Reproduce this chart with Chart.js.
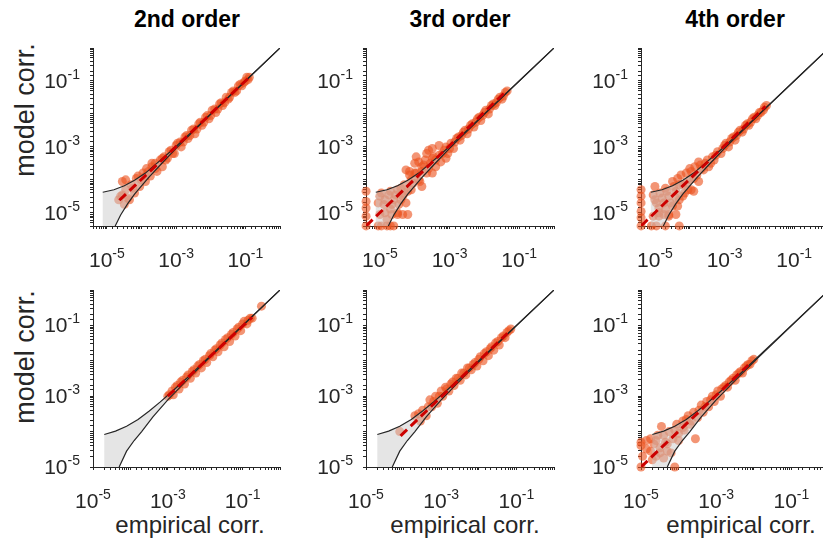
<!DOCTYPE html>
<html>
<head>
<meta charset="utf-8">
<script src="https://cdn.jsdelivr.net/npm/chart.js@4.4.1/dist/chart.umd.min.js"></script>
<style>
  html, body { margin: 0; padding: 0; background: #fff; overflow: hidden; }
  body { width: 823px; height: 545px; position: relative; font-family: "Liberation Sans", Arial, sans-serif; color: #000; }
  canvas { position: absolute; }
  .title { position: absolute; top: 8px; width: 200px; margin-left: -100px; text-align: center;
           font-size: 23px; font-weight: bold; line-height: 1; }
  .ylab { position: absolute; left: 25px; font-size: 27px; line-height: 1; white-space: nowrap; color: #262626;
          transform: translate(-50%, -50%) rotate(-90deg); }
  .xlab { position: absolute; top: 513px; width: 220px; margin-left: -110px; text-align: center;
          font-size: 24px; line-height: 1; color: #262626; }
</style>
</head>
<body>
<div class="title" style="left:187px">2nd order</div>
<div class="title" style="left:460px">3rd order</div>
<div class="title" style="left:735px">4th order</div>
<div class="ylab" style="top:110px">model corr.</div>
<div class="ylab" style="top:357px">model corr.</div>
<div class="xlab" style="left:190px">empirical corr.</div>
<div class="xlab" style="left:465px">empirical corr.</div>
<div class="xlab" style="left:741px">empirical corr.</div>
<script>
// axis ranges and tick labels
const topMin = 3.98e-6;
const bottomMin = 1e-5;
const axisMax = 1;
const tickValues = [1e-5, 1e-3, 1e-1];
const tickExps = ['-5', '-3', '-1'];

// confidence band, top row (upper and lower bound)
const topUpperX = [7.6e-6, 1.6e-5, 3.2e-5, 6.3e-5, 1.3e-4, 2.5e-4, 5.0e-4, 1.0e-3, 3.2e-3, 1.0e-2, 1.0e-1, 1];
const topUpperY = [4.2e-5, 5.0e-5, 6.6e-5, 9.7e-5, 1.6e-4, 2.9e-4, 5.4e-4, 1.03e-3, 3.2e-3, 1.0e-2, 1.0e-1, 1];
const topLowerX = [1.74e-5, 2.5e-5, 4.0e-5, 6.3e-5, 1.6e-4, 4.0e-4, 1.0e-3, 3.2e-3, 1.0e-2, 1.0e-1, 1];
const topLowerY = [3.98e-6, 8.6e-6, 1.9e-5, 3.7e-5, 1.17e-4, 3.3e-4, 9.0e-4, 3.0e-3, 9.7e-3, 1.0e-1, 1];

// confidence band, bottom row
const botUpperX = [2.0e-5, 4.0e-5, 7.9e-5, 1.6e-4, 3.2e-4, 6.3e-4, 1.26e-3, 3.2e-3, 1.0e-2, 1.0e-1, 1];
const botUpperY = [8.3e-5, 1.03e-4, 1.42e-4, 2.2e-4, 3.8e-4, 6.9e-4, 1.32e-3, 3.2e-3, 1.0e-2, 1.0e-1, 1];
const botLowerX = [5.0e-5, 7.9e-5, 1.26e-4, 2.0e-4, 4.0e-4, 1.0e-3, 3.2e-3, 1.0e-2, 1.0e-1, 1];
const botLowerY = [1.0e-5, 2.8e-5, 5.6e-5, 1.0e-4, 2.6e-4, 7.9e-4, 2.8e-3, 9.3e-3, 9.8e-2, 1];

// 2nd order, top row
const emp2Top = [2.2e-5, 2.5e-5, 2.8e-5, 3.2e-5, 3.5e-5, 3.5e-5, 4.5e-5, 5.0e-5, 6.3e-5, 7.1e-5, 8.9e-5, 1.1e-4, 1.3e-4, 1.4e-4, 1.8e-4, 2.0e-4, 2.5e-4, 2.8e-4, 3.5e-4, 4.0e-4, 4.5e-4, 5.6e-4, 7.1e-4, 8.9e-4, 1.1e-3, 1.4e-3, 1.8e-3, 2.2e-3, 2.8e-3, 3.5e-3, 4.5e-3, 5.6e-3, 7.1e-3, 8.9e-3, 0.011, 0.014, 0.018, 0.022, 0.028, 0.035, 0.045, 0.056, 0.071, 0.089, 0.11, 0.13,
  5.0e-4, 6.3e-4, 7.9e-4, 1.0e-3, 1.3e-3, 1.6e-3, 2.0e-3, 2.5e-3, 3.2e-3, 4.0e-3, 5.0e-3, 6.3e-3, 7.9e-3, 0.010, 0.013, 0.016, 0.020, 0.025, 0.032, 0.040, 0.050, 0.063, 0.079, 0.10, 0.12,
  2.8e-5, 4.0e-5, 5.6e-5, 1.0e-4, 1.6e-4, 2.5e-4, 4.0e-4, 7.9e-5, 1.3e-4, 2.0e-4];
const mod2Top = [2.5e-5, 3.2e-5, 8.9e-5, 1.8e-5, 5.0e-5, 1.0e-4, 2.5e-5, 7.1e-5, 4.0e-5, 1.1e-4, 6.3e-5, 1.6e-4, 8.9e-5, 2.2e-4, 1.3e-4, 2.5e-4, 3.2e-4, 1.8e-4, 4.0e-4, 2.5e-4, 5.0e-4, 4.5e-4, 7.9e-4, 6.3e-4, 1.3e-3, 1.0e-3, 2.0e-3, 1.8e-3, 3.2e-3, 2.5e-3, 5.0e-3, 4.5e-3, 7.9e-3, 7.1e-3, 0.013, 0.011, 0.020, 0.018, 0.032, 0.032, 0.050, 0.050, 0.079, 0.089, 0.13, 0.13,
  4.0e-4, 7.1e-4, 6.3e-4, 1.1e-3, 1.4e-3, 1.4e-3, 2.2e-3, 2.2e-3, 3.5e-3, 3.5e-3, 5.6e-3, 5.6e-3, 8.9e-3, 8.9e-3, 0.014, 0.014, 0.022, 0.022, 0.028, 0.045, 0.045, 0.071, 0.071, 0.10, 0.11,
  3.5e-5, 2.8e-5, 5.6e-5, 1.0e-4, 1.8e-4, 2.2e-4, 4.5e-4, 1.3e-4, 1.3e-4, 3.2e-4];
const fit2TopX = [2.3e-5, 0.12];
const fit2TopY = [2.4e-5, 0.12];

// 3rd order, top row
const emp3Top = [4.0e-6, 4.0e-6, 4.0e-6, 4.0e-6, 4.0e-6, 8.9e-6, 1.1e-5, 1.6e-5, 2.0e-5, 2.5e-5, 2.2e-5, 3.2e-5, 4.5e-5, 6.3e-5,
  1.0e-5, 1.3e-5, 1.4e-5, 1.8e-5, 2.0e-5, 2.5e-5, 3.2e-5, 3.5e-5, 4.5e-5, 5.0e-5, 6.3e-5, 7.1e-5, 7.1e-5, 8.9e-5, 1.0e-4, 1.1e-4, 1.3e-4, 1.4e-4, 1.6e-4, 2.0e-4, 2.2e-4, 2.2e-4, 2.8e-4, 3.2e-4, 3.5e-4, 4.0e-4, 5.0e-4, 5.0e-4, 5.6e-4, 7.1e-4, 8.9e-4, 1.1e-3, 1.3e-3, 1.6e-3, 2.0e-3, 2.5e-3, 3.2e-3, 4.0e-3, 5.0e-3, 6.3e-3, 7.9e-3, 0.010, 0.013, 0.016, 0.020, 0.025, 0.032, 0.040, 0.045,
  1.4e-3, 1.8e-3, 2.2e-3, 2.8e-3, 3.5e-3, 4.5e-3, 5.6e-3, 7.1e-3, 8.9e-3, 0.011, 0.014, 0.018, 0.022, 0.028, 0.035,
  8.9e-6, 1.0e-5, 1.1e-5, 1.4e-5, 1.6e-5, 2.0e-5, 2.2e-5, 2.8e-5, 3.2e-5, 4.0e-5, 4.0e-5, 5.0e-5, 5.6e-5, 7.9e-5, 7.9e-5, 1.0e-4, 1.3e-4, 1.6e-4, 1.8e-4, 2.5e-4, 3.2e-4, 4.0e-4, 6.3e-4, 7.9e-4, 1.0e-3, 5.6e-5, 1.1e-4, 2.5e-4, 7.9e-4, 3.2e-4, 1.6e-4];
const mod3Top = [4.5e-5, 2.2e-5, 1.4e-5, 7.9e-6, 4.0e-6, 4.0e-6, 4.0e-6, 4.0e-6, 4.0e-6, 4.0e-6, 8.9e-6, 8.9e-6, 8.9e-6, 8.9e-6,
  3.2e-5, 1.8e-5, 1.0e-5, 3.5e-5, 1.3e-5, 2.5e-5, 5.0e-5, 1.8e-5, 3.2e-5, 7.1e-5, 4.5e-5, 1.4e-4, 1.8e-4, 7.9e-5, 3.2e-4, 1.6e-4, 3.5e-4, 8.9e-5, 2.5e-4, 4.0e-4, 1.6e-4, 6.3e-4, 3.2e-4, 8.9e-4, 5.0e-4, 2.5e-4, 5.6e-4, 1.1e-3, 3.5e-4, 7.9e-4, 6.3e-4, 1.3e-3, 8.9e-4, 1.8e-3, 1.6e-3, 2.8e-3, 2.5e-3, 4.5e-3, 4.0e-3, 7.1e-3, 6.3e-3, 0.011, 0.010, 0.018, 0.018, 0.028, 0.028, 0.045, 0.050,
  1.4e-3, 2.0e-3, 2.2e-3, 3.2e-3, 3.5e-3, 5.0e-3, 5.6e-3, 7.9e-3, 8.9e-3, 0.013, 0.014, 0.020, 0.022, 0.032, 0.035,
  2.0e-5, 8.9e-6, 4.0e-5, 2.5e-5, 6.3e-6, 4.5e-5, 1.8e-5, 3.5e-5, 1.0e-5, 5.6e-5, 2.5e-5, 4.0e-5, 2.0e-5, 1.0e-4, 5.0e-5, 1.6e-4, 1.0e-4, 1.8e-4, 2.8e-4, 2.2e-4, 4.5e-4, 4.0e-4, 6.3e-4, 1.0e-3, 8.9e-4, 2.0e-4, 5.0e-4, 7.9e-4, 4.5e-4, 1.6e-4, 6.3e-5];
const fit3TopX = [4.0e-6, 0.038];
const fit3TopY = [4.0e-6, 0.044];

// 4th order, top row
const emp4Top = [4.0e-6, 4.0e-6, 4.0e-6, 4.0e-6, 4.0e-6, 4.0e-6, 7.9e-6, 1.1e-5, 2.0e-5, 5.0e-5, 8.9e-6, 1.3e-5, 1.8e-5, 2.5e-5, 4.0e-5,
  1.0e-5, 1.0e-5, 1.3e-5, 1.4e-5, 1.8e-5, 2.0e-5, 2.5e-5, 3.2e-5, 3.2e-5, 4.0e-5, 4.5e-5, 5.0e-5, 5.6e-5, 6.3e-5, 7.1e-5, 7.9e-5, 1.0e-4, 1.1e-4, 1.4e-4, 1.6e-4, 1.8e-4, 2.0e-4, 2.5e-4, 3.2e-4, 3.5e-4, 4.5e-4, 5.0e-4, 6.3e-4, 7.9e-4, 1.0e-3, 1.3e-3, 1.6e-3, 2.0e-3, 2.5e-3, 3.2e-3, 4.0e-3, 5.0e-3, 6.3e-3, 7.9e-3, 0.010, 0.013, 0.016,
  8.9e-4, 1.1e-3, 1.4e-3, 1.8e-3, 2.2e-3, 2.8e-3, 3.5e-3, 4.5e-3, 5.6e-3, 7.1e-3, 8.9e-3, 0.011, 0.014,
  8.9e-6, 1.1e-5, 1.3e-5, 1.6e-5, 2.0e-5, 2.2e-5, 2.8e-5, 3.5e-5, 4.0e-5, 5.0e-5, 6.3e-5, 7.9e-5, 8.9e-5, 1.1e-4, 1.3e-4, 2.2e-4, 2.8e-4, 4.0e-4, 5.6e-4, 4.5e-5, 1.0e-4, 1.8e-4, 1.3e-4, 2.5e-5];
const mod4Top = [5.0e-5, 3.2e-5, 2.0e-5, 1.1e-5, 7.1e-6, 4.0e-6, 4.0e-6, 4.0e-6, 4.0e-6, 4.0e-6, 7.9e-6, 7.9e-6, 8.9e-6, 7.9e-6, 8.9e-6,
  6.3e-5, 2.5e-5, 1.4e-5, 4.0e-5, 2.0e-5, 5.6e-5, 3.2e-5, 8.9e-5, 1.6e-5, 4.5e-5, 1.6e-5, 2.5e-5, 1.4e-4, 7.1e-5, 4.0e-5, 1.6e-4, 1.0e-4, 5.0e-5, 2.5e-4, 1.4e-4, 8.9e-5, 2.8e-4, 2.0e-4, 4.0e-4, 2.5e-4, 5.0e-4, 4.0e-4, 7.1e-4, 6.3e-4, 1.1e-3, 1.0e-3, 1.8e-3, 1.6e-3, 2.8e-3, 2.8e-3, 4.5e-3, 4.5e-3, 7.1e-3, 7.1e-3, 0.011, 0.013, 0.018,
  8.9e-4, 1.3e-3, 1.4e-3, 2.0e-3, 2.2e-3, 3.2e-3, 3.5e-3, 5.0e-3, 5.6e-3, 7.9e-3, 8.9e-3, 0.011, 0.016,
  3.5e-5, 2.0e-5, 1.0e-5, 2.8e-5, 1.3e-5, 4.5e-5, 2.0e-5, 6.3e-5, 2.8e-5, 7.1e-5, 3.2e-5, 7.9e-5, 5.0e-5, 1.8e-4, 1.1e-4, 2.2e-4, 3.2e-4, 3.2e-4, 5.6e-4, 1.1e-4, 2.2e-4, 3.5e-4, 4.5e-5, 8.9e-6];
const fit4TopX = [4.0e-6, 0.015];
const fit4TopY = [4.0e-6, 0.017];

// 2nd order, bottom row
const emp2Bot = [1.0e-3, 1.3e-3, 1.4e-3, 1.8e-3, 2.0e-3, 2.5e-3, 2.8e-3, 3.5e-3, 4.0e-3, 5.0e-3, 5.6e-3, 7.1e-3, 7.9e-3, 0.010, 0.011, 0.014, 0.016, 0.020, 0.022, 0.028, 0.032, 0.040, 0.045, 0.056, 0.063, 0.079, 0.089, 0.11, 0.13, 0.16, 0.18, 0.32,
  1.1e-3, 1.6e-3, 2.2e-3, 3.2e-3, 4.5e-3, 6.3e-3, 8.9e-3, 0.013, 0.018, 0.025, 0.035, 0.050, 0.071, 0.10, 0.14];
const mod2Bot = [1.0e-3, 1.4e-3, 1.1e-3, 2.0e-3, 1.6e-3, 2.8e-3, 2.2e-3, 4.0e-3, 3.2e-3, 5.6e-3, 4.5e-3, 7.9e-3, 6.3e-3, 0.011, 8.9e-3, 0.016, 0.013, 0.022, 0.018, 0.032, 0.025, 0.045, 0.035, 0.063, 0.050, 0.089, 0.071, 0.13, 0.11, 0.16, 0.16, 0.35,
  1.1e-3, 1.8e-3, 2.5e-3, 3.5e-3, 5.0e-3, 7.1e-3, 0.010, 0.014, 0.020, 0.028, 0.040, 0.056, 0.079, 0.11, 0.14];
const fit2BotX = [1.0e-3, 0.18];
const fit2BotY = [1.0e-3, 0.17];

// 3rd order, bottom row
const emp3Bot = [7.9e-5, 2.5e-4, 3.2e-4, 4.0e-4, 5.0e-4, 5.6e-4, 7.1e-4, 7.9e-4, 1.0e-3, 1.1e-3, 1.3e-3, 1.6e-3, 1.8e-3, 2.2e-3, 2.5e-3, 3.2e-3, 3.5e-3, 4.5e-3, 5.0e-3, 6.3e-3, 7.9e-3, 8.9e-3, 0.011, 0.013, 0.016, 0.018, 0.022, 0.025, 0.032, 0.035, 0.045, 0.050, 0.063, 0.071,
  4.5e-4, 6.3e-4, 8.9e-4, 1.4e-3, 2.0e-3, 2.8e-3, 4.0e-3, 5.6e-3, 7.1e-3, 0.010, 0.014, 0.020, 0.028, 0.040, 0.056, 2.0e-4, 2.8e-4];
const mod3Bot = [1.0e-4, 3.2e-4, 4.0e-4, 2.8e-4, 7.9e-4, 5.0e-4, 1.0e-3, 6.3e-4, 1.4e-3, 1.0e-3, 1.8e-3, 1.4e-3, 2.2e-3, 2.0e-3, 3.2e-3, 2.8e-3, 4.5e-3, 4.0e-3, 6.3e-3, 5.6e-3, 8.9e-3, 7.1e-3, 0.013, 0.010, 0.018, 0.014, 0.025, 0.020, 0.035, 0.028, 0.050, 0.045, 0.071, 0.079,
  5.0e-4, 7.1e-4, 1.0e-3, 1.6e-3, 2.5e-3, 3.2e-3, 4.5e-3, 6.3e-3, 7.9e-3, 0.011, 0.016, 0.022, 0.032, 0.045, 0.063, 2.8e-4, 2.0e-4];
const fit3BotX = [8.3e-5, 0.058];
const fit3BotY = [7.6e-5, 0.060];

// 4th order, bottom row
const emp4Bot = [1.0e-5, 1.0e-5, 1.0e-5, 1.8e-5, 1.8e-5, 2.2e-5, 2.5e-5, 2.8e-5, 3.2e-5, 3.5e-5, 4.0e-5, 4.5e-5, 5.0e-5, 5.6e-5, 7.9e-5, 7.1e-5, 8.9e-5, 1.0e-4, 1.3e-4, 1.4e-4, 1.8e-4, 2.0e-4, 2.5e-4, 2.8e-4, 3.2e-4, 4.0e-4, 4.5e-4, 5.6e-4, 6.3e-4, 7.9e-4, 8.9e-4, 1.1e-3, 1.3e-3, 1.6e-3, 2.0e-3, 2.5e-3, 3.2e-3, 4.0e-3, 5.0e-3, 6.3e-3, 7.9e-3, 0.010,
  7.1e-4, 1.0e-3, 1.4e-3, 1.8e-3, 2.2e-3, 2.8e-3, 3.5e-3, 4.5e-3, 5.6e-3, 7.1e-3, 8.9e-3,
  1.4e-5, 2.0e-5, 2.5e-5, 3.2e-5, 4.0e-5, 5.0e-5, 6.3e-5, 7.9e-5, 1.0e-4, 1.3e-4, 1.6e-4, 2.2e-4, 3.5e-4, 5.0e-4, 1.1e-5, 1.4e-5];
const mod4Bot = [1.0e-5, 5.0e-5, 4.0e-5, 6.3e-5, 2.8e-5, 4.5e-5, 2.0e-5, 7.9e-5, 3.5e-5, 1.4e-4, 1.8e-5, 5.0e-5, 2.8e-5, 1.0e-4, 1.0e-5, 6.3e-5, 1.6e-4, 8.9e-5, 2.0e-4, 1.1e-4, 2.8e-4, 1.6e-4, 3.5e-4, 6.3e-5, 2.5e-4, 5.6e-4, 3.5e-4, 7.1e-4, 5.0e-4, 1.0e-3, 7.1e-4, 1.4e-3, 1.0e-3, 1.8e-3, 1.8e-3, 2.8e-3, 2.8e-3, 4.5e-3, 4.5e-3, 7.1e-3, 7.9e-3, 0.011,
  7.9e-4, 1.1e-3, 1.6e-3, 2.0e-3, 2.5e-3, 3.2e-3, 4.0e-3, 5.0e-3, 6.3e-3, 7.9e-3, 0.010,
  3.2e-5, 1.6e-5, 5.6e-5, 2.5e-5, 7.9e-5, 4.5e-5, 2.5e-5, 1.1e-4, 5.6e-5, 1.3e-4, 2.2e-4, 2.0e-4, 4.0e-4, 5.0e-4, 2.0e-5, 5.6e-5];
const fit4BotX = [1.0e-5, 7.1e-3];
const fit4BotY = [1.0e-5, 7.6e-3];

// layout of the six axes boxes (page pixels)
const colBoxes = [[93, 280], [366, 554], [641, 829]];
const rowBoxes = [[48, 226], [290, 467]];
const padL = 80, padT = 10, padR = 10, padB = 45;

const axisColor = '#262626';
const pointColor = 'rgba(236, 84, 32, 0.62)';
const bandColor = 'rgba(204, 204, 204, 0.5)';
const fitColor = '#cc0000';
const labelFont = '21px "Liberation Sans", Arial, sans-serif';
const expFont = '14px "Liberation Sans", Arial, sans-serif';

const bands = [
  { upX: topUpperX, upY: topUpperY, loX: topLowerX, loY: topLowerY, min: topMin },
  { upX: botUpperX, upY: botUpperY, loX: botLowerX, loY: botLowerY, min: bottomMin }
];

const panels = [
  { row: 0, col: 0, emp: emp2Top, mod: mod2Top, fitX: fit2TopX, fitY: fit2TopY },
  { row: 0, col: 1, emp: emp3Top, mod: mod3Top, fitX: fit3TopX, fitY: fit3TopY },
  { row: 0, col: 2, emp: emp4Top, mod: mod4Top, fitX: fit4TopX, fitY: fit4TopY },
  { row: 1, col: 0, emp: emp2Bot, mod: mod2Bot, fitX: fit2BotX, fitY: fit2BotY },
  { row: 1, col: 1, emp: emp3Bot, mod: mod3Bot, fitX: fit3BotX, fitY: fit3BotY },
  { row: 1, col: 2, emp: emp4Bot, mod: mod4Bot, fitX: fit4BotX, fitY: fit4BotY }
];

function zip(xs, ys) {
  const n = Math.min(xs.length, ys.length);
  return xs.slice(0, n).map((x, i) => ({ x: x, y: ys[i] }));
}

// draws "10" with a raised exponent, like MATLAB's tex tick labels
const expLabels = {
  id: 'expLabels',
  afterDraw(chart) {
    const ctx = chart.ctx;
    const xs = chart.scales.x;
    const ys = chart.scales.y;
    ctx.save();
    ctx.fillStyle = axisColor;
    ctx.textBaseline = 'alphabetic';
    ctx.textAlign = 'left';
    tickValues.forEach((v, i) => {
      const e = tickExps[i];
      ctx.font = labelFont;
      const wb = ctx.measureText('10').width;
      ctx.font = expFont;
      const we = ctx.measureText(e).width;

      if (v >= xs.min) {
        const px = xs.getPixelForValue(v);
        const left = px - (wb + we) / 2;
        const base = xs.top + 41;
        ctx.font = labelFont;
        ctx.fillText('10', left, base);
        ctx.font = expFont;
        ctx.fillText(e, left + wb, base - 9);
      }
      if (v >= ys.min) {
        const py = ys.getPixelForValue(v);
        const right = ys.right - 13;
        const base = py + 7;
        ctx.font = labelFont;
        ctx.fillText('10', right - we - wb, base);
        ctx.font = expFont;
        ctx.fillText(e, right - we, base - 9);
      }
    });
    ctx.restore();
  }
};

function logAxis(min, isX) {
  return {
    type: 'logarithmic',
    min: min,
    max: axisMax,
    position: isX ? 'bottom' : 'left',
    border: { display: true, color: axisColor, width: 1 },
    grid: { drawOnChartArea: false, drawTicks: true, tickLength: 3, color: axisColor, lineWidth: 1 },
    ticks: { display: false, autoSkip: false },
    afterFit: (s) => { if (isX) s.height = padB; else s.width = padL; }
  };
}

panels.forEach((p) => {
  const [x0, x1] = colBoxes[p.col];
  const [y0, y1] = rowBoxes[p.row];
  const b = bands[p.row];

  const cv = document.createElement('canvas');
  cv.width = x1 - x0 + padL + padR;
  cv.height = y1 - y0 + padT + padB;
  cv.style.left = (x0 - padL) + 'px';
  cv.style.top = (y0 - padT) + 'px';
  document.body.appendChild(cv);

  const upper = zip(b.upX, b.upY);
  const lower = zip(b.loX, b.loY);
  const shape = upper.concat(lower.slice().reverse(), [{ x: b.upX[0], y: b.min }]);

  new Chart(cv.getContext('2d'), {
    type: 'scatter',
    data: {
      datasets: [
        {
          data: zip(p.emp, p.mod),
          pointRadius: 4.5,
          pointBackgroundColor: pointColor,
          pointBorderWidth: 0,
          pointBorderColor: 'rgba(0,0,0,0)',
          clip: false,
          order: 5
        },
        {
          data: shape,
          showLine: true,
          fill: 'shape',
          backgroundColor: bandColor,
          borderColor: 'rgba(0,0,0,0)',
          borderWidth: 0,
          pointRadius: 0,
          tension: 0,
          order: 4
        },
        {
          data: upper,
          showLine: true,
          fill: false,
          borderColor: axisColor,
          borderWidth: 1.2,
          pointRadius: 0,
          tension: 0,
          order: 3
        },
        {
          data: lower,
          showLine: true,
          fill: false,
          borderColor: axisColor,
          borderWidth: 1.2,
          pointRadius: 0,
          tension: 0,
          order: 3
        },
        {
          data: zip(p.fitX, p.fitY),
          showLine: true,
          fill: false,
          borderColor: fitColor,
          borderWidth: 3,
          borderDash: [9, 5],
          pointRadius: 0,
          order: 1
        }
      ]
    },
    options: {
      responsive: false,
      animation: false,
      events: [],
      devicePixelRatio: 1,
      layout: { padding: { left: 0, top: padT, right: padR, bottom: 0 } },
      plugins: { legend: { display: false }, tooltip: { enabled: false } },
      scales: { x: logAxis(b.min, true), y: logAxis(b.min, false) }
    },
    plugins: [expLabels]
  });
});
</script>
</body>
</html>
